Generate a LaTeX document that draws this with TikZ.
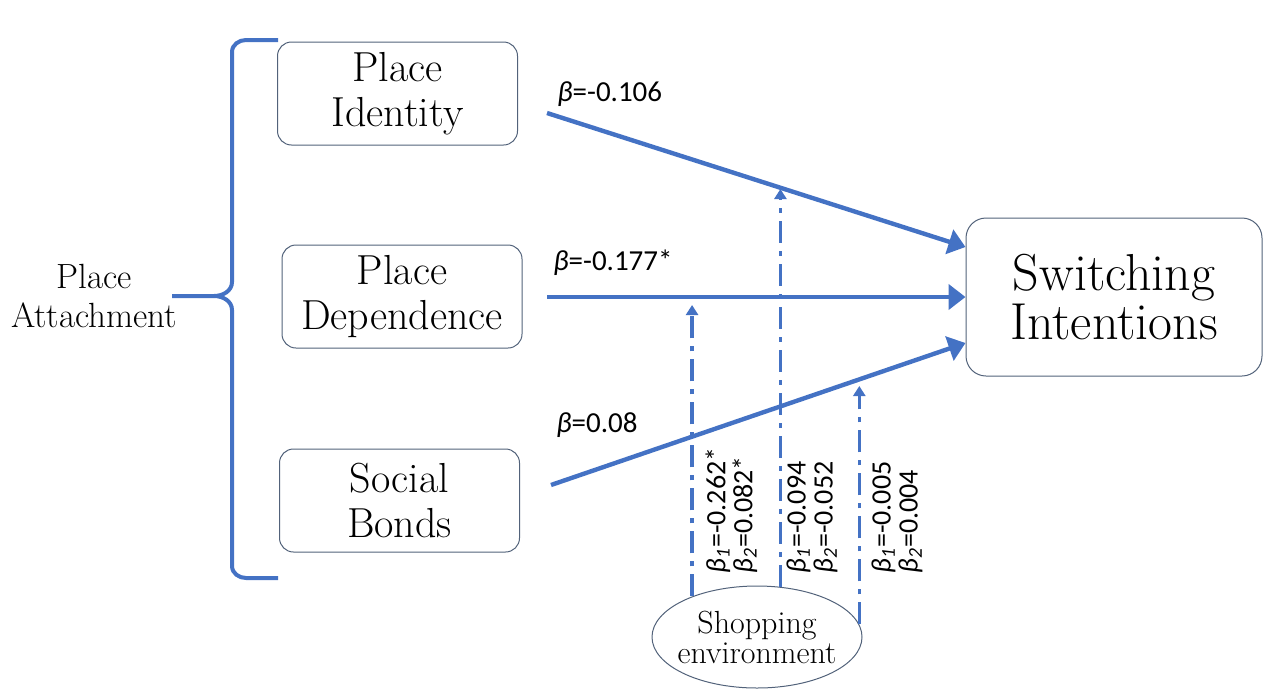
\documentclass[tikz,border=0pt]{standalone}
\usepackage{fontspec}
\usepackage{xcolor}
\usepackage{tikz}
\usetikzlibrary{
    arrows.meta,
    positioning,
    shapes.geometric
}
\newfontfamily\coeffont{Carlito}
\definecolor{pathblue}{HTML}{4472C4}
\definecolor{boxline}{HTML}{52627A}

\begin{document}
\begin{tikzpicture}[
    x=0.5pt, y=-0.5pt,
    box/.style={
        draw=boxline,
        line width=0.5pt,
        rounded corners=7pt,
        minimum width=120pt,
        minimum height=51.5pt,
        align=center,
        font=\fontsize{21}{22.5}\selectfont
    },
    effect/.style={
        draw=pathblue,
        line width=2.2pt,
        -{Triangle[length=8.5pt,width=12.5pt]}
    },
    moderator/.style={
        draw=pathblue,
        line width=1.6pt,
        dash pattern=on 11pt off 4pt on 2.5pt off 4pt,
        -{Triangle[length=5pt,width=6pt]}
    },
    coef/.style={
        inner sep=0pt,
        font=\coeffont\fontsize{14.5}{15}\selectfont
    },
    coefrot/.style={
        inner sep=0pt,
        rotate=90,
        anchor=north west,
        align=left,
        font=\coeffont\fontsize{14}{13.5}\selectfont
    }
]

\useasboundingbox (0,0) rectangle (1267,691);

\node[box] (identity) at (397.5,93.5)
{Place\\Identity};

\node[box] (dependence) at (402,296.5)
{Place\\Dependence};

\node[box] (bonds) at (399.5,500.5)
{Social\\Bonds};

\node[box, minimum width=148pt, minimum height=79pt, rounded corners=10pt,
font=\fontsize{26}{23}\selectfont] (switching) at (1114,297)
{Switching\\Intentions};

\node[ellipse, draw=boxline, line width=0.5pt, minimum width=105pt,
minimum height=51pt, inner sep=0pt, inner xsep=-4pt, align=center,
font=\fontsize{16}{15}\selectfont] (shopping) at (757,637)
{Shopping\\environment};

\node[align=center, font=\fontsize{17.5}{19.5}\selectfont] (attachment) at (94,296)
{Place\\Attachment};

% brace
\draw[pathblue, line width=2pt]
    (278,40) -- (246,40) to[out=180,in=90] (232,52) -- (232,282)
    to[out=-90,in=0] (214,296) -- (attachment.east -| 172,0);
\draw[pathblue, line width=2pt]
    (214,296) to[out=0,in=90] (232,310) -- (232,566)
    to[out=-90,in=180] (246,578) -- (278,578);

\coordinate (identity-out) at (547,113);
\coordinate (dependence-out) at (547,297);
\coordinate (bonds-out) at (551,485);

\draw[effect] (identity-out) -- ([yshift=25pt]switching.west);
\draw[effect] (dependence-out) -- (switching.west);
\draw[effect] (bonds-out) -- ([yshift=-23pt]switching.west);

\node[coef, anchor=base west] (b-identity) at (557,101)
{{\itshape β}=-0.106};
\node[coef, anchor=base west] (b-dependence) at (553,270)
{{\itshape β}=-0.177*};
\node[coef, anchor=base west] (b-bonds) at (556,432)
{{\itshape β}=0.08};

\coordinate (tip-dependence) at (shopping.148 |- 0,305);
\coordinate (tip-identity) at (shopping.65.8 |- 0,189);
\coordinate (tip-bonds) at (shopping.7.7 |- 0,386);

\draw[moderator] (shopping.148) -- (tip-dependence);
\draw[moderator] (shopping.65.8) -- (tip-identity);
\draw[moderator] (shopping.7.7) -- (tip-bonds);

\node[coefrot] (m-dependence) at (705,574)
{{\itshape β\textsubscript{1}}=-0.262*\\{\itshape β\textsubscript{2}}=0.082*};
\node[coefrot] (m-identity) at (786,574)
{{\itshape β\textsubscript{1}}=-0.094\\{\itshape β\textsubscript{2}}=-0.052};
\node[coefrot] (m-bonds) at (871,574)
{{\itshape β\textsubscript{1}}=-0.005\\{\itshape β\textsubscript{2}}=0.004};

\end{tikzpicture}
\end{document}
